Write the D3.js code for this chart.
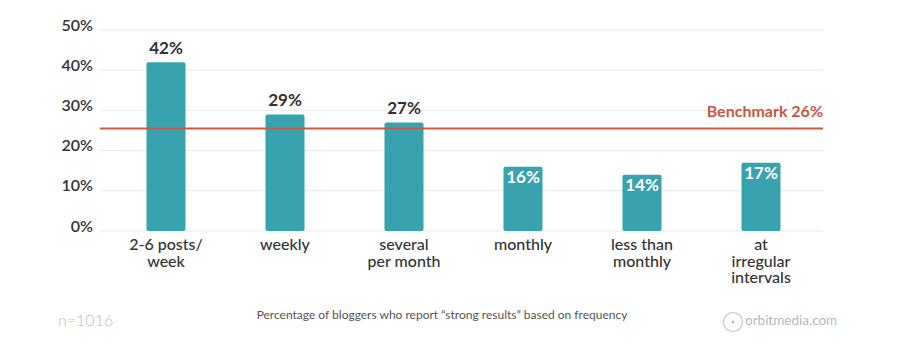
<!DOCTYPE html>
<html><head><meta charset="utf-8">
<script src="https://cdn.jsdelivr.net/npm/d3@7"></script>
<style>
html,body{margin:0;padding:0;background:#fff;}
svg{display:block;font-family:Lato,"Open Sans",sans-serif;}
</style></head>
<body><svg id="chart" width="921" height="359"></svg>
<script>
const categories = [["2-6 posts/","week"],["weekly"],["several","per month"],["monthly"],["less than","monthly"],["at","irregular","intervals"]];
const values = [42, 29, 27, 16, 14, 17];
const labelInside = [false, false, false, true, true, true];
const yTicks = [0, 10, 20, 30, 40, 50];
const benchmark = 26;
const benchmarkLabel = "Benchmark 26%";
const caption = "Percentage of bloggers who report \u201cstrong results\u201d based on frequency";
const sampleNote = "n=1016";
const brand = "orbitmedia.com";

const svg = d3.select("#chart");
const x = d3.scaleBand().domain(d3.range(values.length)).range([106.5, 820.5]).paddingInner(0.672).paddingOuter(0.336);
const y = d3.scaleLinear().domain([0, 50]).range([231, 30]);

// gridlines
svg.append("g").selectAll("line").data(yTicks).join("line")
  .attr("x1", 100).attr("x2", 823)
  .attr("y1", d => y(d)).attr("y2", d => y(d))
  .attr("stroke", "#e9e9e9").attr("stroke-width", 1);

// y tick labels
svg.append("g").selectAll("text").data(yTicks).join("text")
  .attr("x", 93).attr("y", d => y(d) - 3.5)
  .attr("text-anchor", "end").attr("dominant-baseline", "middle")
  .attr("font-size", 16).attr("font-weight", 600).attr("fill", "#333")
  .text(d => d + "%");

// bars
svg.append("g").selectAll("rect").data(values).join("rect")
  .attr("x", (d, i) => x(i)).attr("width", x.bandwidth())
  .attr("y", d => y(d)).attr("height", d => y(0) - y(d))
  .attr("rx", 2).attr("fill", "#39a2af");

// benchmark
svg.append("line").attr("x1", 100).attr("x2", 823)
  .attr("y1", y(benchmark) + 2).attr("y2", y(benchmark) + 2)
  .attr("stroke", "#cf5a42").attr("stroke-width", 2);
svg.append("text").attr("x", 823).attr("y", y(benchmark) - 14)
  .attr("text-anchor", "end").attr("dominant-baseline", "middle")
  .attr("font-size", 16).attr("font-weight", 700).attr("fill", "#c9573f")
  .text(benchmarkLabel);

// value labels
svg.append("g").selectAll("text").data(values).join("text")
  .attr("x", (d, i) => x(i) + x.bandwidth() / 2)
  .attr("y", (d, i) => labelInside[i] ? y(d) + 12 : y(d) - 13)
  .attr("text-anchor", "middle").attr("dominant-baseline", "middle")
  .attr("font-size", 17).attr("font-weight", 700)
  .attr("fill", (d, i) => labelInside[i] ? "#fff" : "#333")
  .text(d => d + "%");

// category labels, one text per line
const catLines = categories.flatMap((lines, i) => lines.map((t, j) => ({ i, j, t })));
svg.append("g").selectAll("text").data(catLines).join("text")
  .attr("x", d => x(d.i) + x.bandwidth() / 2)
  .attr("y", d => 246 + d.j * 16.5)
  .attr("text-anchor", "middle").attr("dominant-baseline", "middle")
  .attr("font-size", 16).attr("font-weight", 500).attr("fill", "#333")
  .text(d => d.t);

// footer
svg.append("text").attr("x", 58).attr("y", 322).attr("dominant-baseline", "middle")
  .attr("font-size", 16).attr("font-weight", 300).attr("fill", "#bdbdbd").text(sampleNote);
svg.append("text").attr("x", 442).attr("y", 316).attr("text-anchor", "middle").attr("dominant-baseline", "middle")
  .attr("font-size", 12).attr("fill", "#555").text(caption);
svg.append("circle").attr("cx", 733).attr("cy", 322).attr("r", 9.5)
  .attr("fill", "none").attr("stroke", "#c8c8c8").attr("stroke-width", 1.2);
svg.append("circle").attr("cx", 733).attr("cy", 322).attr("r", 1.5).attr("fill", "#bbb");
svg.append("text").attr("x", 745).attr("y", 322).attr("dominant-baseline", "middle")
  .attr("font-size", 13.5).attr("fill", "#b8b8b8").text(brand);
</script></body></html>
